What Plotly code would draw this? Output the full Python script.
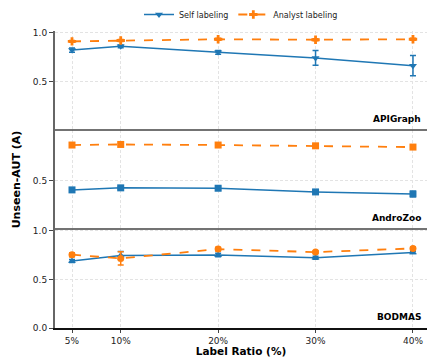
import plotly.graph_objects as go
from plotly.subplots import make_subplots

ratios = [5, 10, 20, 30, 40]
tick_labels = ["5%", "10%", "20%", "30%", "40%"]
datasets = ["APIGraph", "AndroZoo", "BODMAS"]

self_vals = {
    "APIGraph": [0.823, 0.862, 0.800, 0.743, 0.663],
    "AndroZoo": [0.403, 0.424, 0.420, 0.382, 0.361],
    "BODMAS":   [0.690, 0.748, 0.752, 0.724, 0.779],
}
self_err = {
    "APIGraph": [0.022, 0.015, 0.020, 0.075, 0.105],
    "AndroZoo": [0.020, 0.015, 0.018, 0.010, 0.028],
    "BODMAS":   [0.015, 0.040, 0.018, 0.015, 0.012],
}
analyst_vals = {
    "APIGraph": [0.913, 0.922, 0.935, 0.930, 0.935],
    "AndroZoo": [0.865, 0.871, 0.865, 0.857, 0.844],
    "BODMAS":   [0.755, 0.717, 0.813, 0.782, 0.820],
}
analyst_err = {
    "APIGraph": [0.010, 0.010, 0.010, 0.010, 0.010],
    "AndroZoo": [0.010, 0.010, 0.010, 0.010, 0.010],
    "BODMAS":   [0.020, 0.068, 0.020, 0.015, 0.015],
}
self_symbols = ["triangle-down", "square", "triangle-up"]
analyst_symbols = ["cross", "square", "circle"]
ytickvals = [[0.5, 1.0], [0.5], [0.0, 0.5, 1.0]]

BLUE = "#1f77b4"
ORANGE = "#ff7f0e"
FONT = "DejaVu Sans"
GRID = "#e3e3e3"

fig = make_subplots(rows=3, cols=1, shared_xaxes=True, vertical_spacing=0)

for i, ds in enumerate(datasets):
    r = i + 1
    fig.add_trace(go.Scatter(
        x=ratios, y=self_vals[ds], mode="lines+markers", name="Self labeling",
        showlegend=(i == 0), legendrank=1,
        line=dict(color=BLUE, width=1.5),
        marker=dict(symbol=self_symbols[i], size=7, color=BLUE),
        error_y=dict(type="data", array=self_err[ds], color=BLUE, thickness=1.5, width=3),
    ), row=r, col=1)
    fig.add_trace(go.Scatter(
        x=ratios, y=analyst_vals[ds], mode="lines+markers", name="Analyst labeling",
        showlegend=(i == 0), legendrank=2,
        line=dict(color=ORANGE, width=1.8, dash="dash"),
        marker=dict(symbol=analyst_symbols[i], size=7, color=ORANGE),
        error_y=dict(type="data", array=analyst_err[ds], color=ORANGE, thickness=1.5, width=3),
    ), row=r, col=1)

for i, ds in enumerate(datasets):
    r = i + 1
    fig.update_yaxes(
        range=[0, 1.02], tickvals=ytickvals[i], ticktext=[f"{v:.1f}" for v in ytickvals[i]],
        showgrid=True, gridcolor=GRID, griddash="3px,2px", gridwidth=1,
        showline=True, linecolor="#666666", linewidth=2,
        ticks="outside", ticklen=4, tickcolor="#444444",
        tickfont=dict(family=FONT, size=9, color="#222222"),
        zeroline=False, row=r, col=1)
    fig.update_xaxes(
        range=[3.255, 41.44], tickvals=ratios, ticktext=tick_labels,
        showgrid=True, gridcolor=GRID, griddash="3px,2px", gridwidth=1,
        showline=(r == 3), linecolor="#111111", linewidth=1.5,
        ticks="outside" if r == 3 else "", ticklen=3, tickcolor="#444444",
        showticklabels=(r == 3),
        tickfont=dict(family=FONT, size=9, color="#222222"),
        zeroline=False, row=r, col=1)
    xd = "x domain" if r == 1 else f"x{r} domain"
    yd = "y domain" if r == 1 else f"y{r} domain"
    fig.add_annotation(
        x=0.99, y=0.04, xref=xd, yref=yd,
        text=f"<b>{ds}</b>", showarrow=False, xanchor="right", yanchor="bottom",
        font=dict(family=FONT, size=9, color="#000000"))
    if r < 3:
        fig.add_shape(type="line", xref=xd, yref=yd, x0=0, x1=1, y0=0, y1=0,
                      line=dict(color="#444444", width=1.5), layer="above")

fig.update_xaxes(title=dict(text="<b>Label Ratio (%)</b>", font=dict(family=FONT, size=10.5, color="#000"), standoff=5), row=3, col=1)
fig.update_yaxes(title=dict(text="<b>Unseen-AUT (A)</b>", font=dict(family=FONT, size=11, color="#000"), standoff=10), row=2, col=1)

fig.update_layout(
    width=427, height=357,
    margin=dict(l=55, r=0, t=31, b=29, autoexpand=False),
    plot_bgcolor="white", paper_bgcolor="white",
    font=dict(family=FONT, size=9, color="#222"),
    legend=dict(orientation="h", x=0.5, xref="paper", y=1.0, yref="container", xanchor="center", yanchor="top",
                font=dict(family=FONT, size=8), bgcolor="rgba(0,0,0,0)", itemwidth=30, traceorder="normal"),
)

fig.write_html("out.html")
